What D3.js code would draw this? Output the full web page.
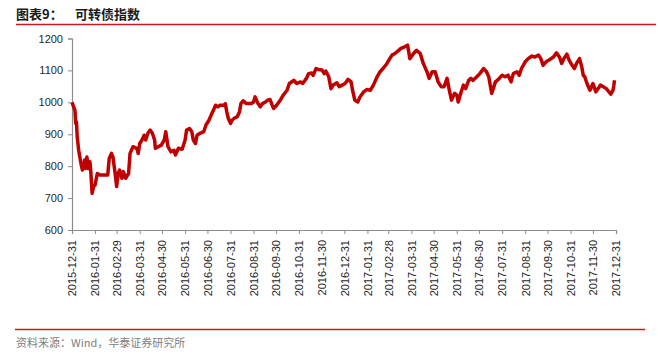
<!DOCTYPE html>
<html>
<head>
<meta charset="utf-8">
<script src="https://cdn.jsdelivr.net/npm/d3@7"></script>
<style>
  html, body { margin: 0; padding: 0; background: #fff; }
  svg { display: block; }
</style>
</head>
<body>
<svg id="chart" width="658" height="356"></svg>
<script>
// ---- data ----
const titleLabel = "图表9：";
const titleText = "可转债指数";
const sourceText = "资料来源：Wind，华泰证券研究所";

const tickDates = ["2015-12-31","2016-01-31","2016-02-29","2016-03-31","2016-04-30","2016-05-31",
  "2016-06-30","2016-07-31","2016-08-31","2016-09-30","2016-10-31","2016-11-30","2016-12-31",
  "2017-01-31","2017-02-28","2017-03-31","2017-04-30","2017-05-31","2017-06-30","2017-07-31",
  "2017-08-31","2017-09-30","2017-10-31","2017-11-30","2017-12-31"];
const yTicks = [600, 700, 800, 900, 1000, 1100, 1200];

const dates = [
 "2015-12-31","2016-01-04","2016-01-05","2016-01-06","2016-01-07","2016-01-09","2016-01-12","2016-01-14",
 "2016-01-17","2016-01-18","2016-01-20","2016-01-22","2016-01-24","2016-01-25","2016-01-27","2016-01-29",
 "2016-01-31","2016-02-03","2016-02-07","2016-02-13","2016-02-17","2016-02-19","2016-02-22","2016-02-24",
 "2016-02-27","2016-02-29","2016-03-02","2016-03-04","2016-03-07","2016-03-09","2016-03-12","2016-03-16",
 "2016-03-18","2016-03-22","2016-03-27","2016-03-29","2016-03-31","2016-04-03","2016-04-06","2016-04-08",
 "2016-04-11","2016-04-14","2016-04-17","2016-04-20","2016-04-21","2016-04-25","2016-04-29","2016-05-03",
 "2016-05-05","2016-05-08","2016-05-12","2016-05-16","2016-05-18","2016-05-22","2016-05-27","2016-05-31",
 "2016-06-02","2016-06-06","2016-06-09","2016-06-11","2016-06-14","2016-06-16","2016-06-20","2016-06-25",
 "2016-06-28","2016-07-02","2016-07-05","2016-07-08","2016-07-11","2016-07-14","2016-07-17","2016-07-22",
 "2016-07-24","2016-07-26","2016-07-28","2016-07-31","2016-08-02","2016-08-05","2016-08-09","2016-08-12",
 "2016-08-14","2016-08-17","2016-08-21","2016-08-24","2016-08-28","2016-08-31","2016-09-02","2016-09-06",
 "2016-09-09","2016-09-12","2016-09-16","2016-09-19","2016-09-22","2016-09-25","2016-09-27","2016-10-01",
 "2016-10-06","2016-10-10","2016-10-15","2016-10-18","2016-10-24","2016-10-28","2016-11-02","2016-11-05",
 "2016-11-10","2016-11-13","2016-11-17","2016-11-19","2016-11-23","2016-11-26","2016-12-01","2016-12-04",
 "2016-12-06","2016-12-10","2016-12-13","2016-12-16","2016-12-21","2016-12-24","2016-12-28","2017-01-01",
 "2017-01-05","2017-01-09","2017-01-11","2017-01-14","2017-01-18","2017-01-21","2017-01-26","2017-01-30",
 "2017-02-04","2017-02-08","2017-02-13","2017-02-17","2017-02-21","2017-02-26","2017-03-02","2017-03-05",
 "2017-03-09","2017-03-14","2017-03-17","2017-03-22","2017-03-26","2017-03-29","2017-04-03","2017-04-07",
 "2017-04-12","2017-04-16","2017-04-21","2017-04-24","2017-04-28","2017-05-02","2017-05-06","2017-05-10",
 "2017-05-14","2017-05-18","2017-05-21","2017-05-24","2017-05-28","2017-05-31","2017-06-02","2017-06-06",
 "2017-06-09","2017-06-12","2017-06-16","2017-06-19","2017-06-22","2017-06-27","2017-07-01","2017-07-06",
 "2017-07-10","2017-07-13","2017-07-17","2017-07-22","2017-07-26","2017-07-31","2017-08-04","2017-08-08",
 "2017-08-12","2017-08-15","2017-08-20","2017-08-23","2017-08-26","2017-08-31","2017-09-04","2017-09-09",
 "2017-09-13","2017-09-18","2017-09-21","2017-09-24","2017-09-28","2017-10-03","2017-10-08","2017-10-12",
 "2017-10-16","2017-10-19","2017-10-22","2017-10-26","2017-10-29","2017-11-02","2017-11-05","2017-11-08",
 "2017-11-12","2017-11-15","2017-11-17","2017-11-19","2017-11-22","2017-11-26","2017-11-30","2017-12-04",
 "2017-12-07","2017-12-10","2017-12-14","2017-12-18","2017-12-24","2017-12-27","2017-12-28","2017-12-29"
];
const values = [
 1000, 975, 934, 939, 892, 850, 809, 788,
 819, 793, 829, 793, 814, 793, 715, 736,
 741, 777, 772, 772, 772, 824, 840, 829,
 777, 736, 777, 788, 762, 783, 762, 777,
 840, 861, 856, 840, 871, 882, 897, 882,
 903, 913, 903, 882, 856, 861, 866, 882,
 908, 861, 845, 850, 835, 856, 853, 882,
 913, 918, 908, 882, 871, 897, 903, 908,
 929, 944, 960, 975, 991, 986, 991, 991,
 996, 970, 950, 934, 944, 950, 955, 970,
 996, 1005, 996, 996, 996, 1001, 1017, 996,
 986, 996, 1001, 1007, 1009, 991, 981, 991,
 1007, 1023, 1038, 1059, 1069, 1059, 1064, 1059,
 1075, 1090, 1092, 1085, 1106, 1103, 1101, 1090,
 1098, 1080, 1043, 1054, 1061, 1049, 1054, 1059,
 1072, 1064, 1038, 1007, 1001, 1017, 1033, 1040,
 1038, 1054, 1080, 1096, 1106, 1121, 1137, 1148,
 1153, 1163, 1169, 1174, 1179, 1137, 1153, 1163,
 1153, 1122, 1096, 1075, 1096, 1096, 1064, 1049,
 1049, 1075, 1038, 1007, 1028, 1023, 1001, 1033,
 1054, 1043, 1069, 1075, 1069, 1080, 1090, 1106,
 1096, 1080, 1028, 1064, 1072, 1085, 1080, 1085,
 1064, 1090, 1096, 1085, 1106, 1127, 1137, 1145,
 1142, 1148, 1137, 1116, 1127, 1134, 1142, 1155,
 1142, 1122, 1137, 1151, 1132, 1116, 1106, 1122,
 1137, 1111, 1085, 1080, 1059, 1038, 1059, 1033,
 1043, 1054, 1049, 1043, 1026, 1038, 1052, 1069
];

// ---- drawing ----
const parse = d3.timeParse("%Y-%m-%d");
const fmt = d3.timeFormat("%Y-%m-%d");
const svg = d3.select("#chart");

const x = d3.scaleTime()
  .domain([parse(tickDates[0]), parse(tickDates[tickDates.length - 1])])
  .range([72, 616]);
const y = d3.scaleLinear().domain([600, 1200]).range([230, 38.5]);

const cjk = "'Noto Sans CJK SC', 'Noto Sans', sans-serif";
const latin = "Arial, 'Liberation Sans', sans-serif";

// header
svg.append("text")
  .attr("x", 16).attr("y", 19)
  .attr("font-family", cjk).attr("font-size", 13).attr("font-weight", "bold")
  .attr("fill", "#1a1a1a")
  .text(titleLabel);
svg.append("text")
  .attr("x", 75).attr("y", 19)
  .attr("font-family", cjk).attr("font-size", 13).attr("font-weight", "bold")
  .attr("fill", "#1a1a1a")
  .text(titleText);
svg.append("line")
  .attr("x1", 16).attr("x2", 656).attr("y1", 24.5).attr("y2", 24.5)
  .attr("stroke", "#d0181e").attr("stroke-width", 1.5);

// footer
svg.append("line")
  .attr("x1", 15).attr("x2", 645).attr("y1", 329.5).attr("y2", 329.5)
  .attr("stroke", "#d0181e").attr("stroke-width", 1.5);
svg.append("text")
  .attr("x", 16).attr("y", 347)
  .attr("font-family", cjk).attr("font-size", 11)
  .attr("fill", "#808080")
  .text(sourceText);

// axes
const axisColor = "#8c8c8c";
const yAxis = d3.axisLeft(y).tickValues(yTicks).tickSize(4).tickPadding(5).tickFormat(d3.format("d"));
const gy = svg.append("g").attr("transform", "translate(72,0)").call(yAxis);
gy.select(".domain").attr("stroke", axisColor).attr("stroke-width", 1.2);
gy.selectAll(".tick line").attr("stroke", axisColor);
gy.selectAll(".tick text").attr("font-family", latin).attr("font-size", 11).attr("fill", "#262626");

const xAxis = d3.axisBottom(x).tickValues(tickDates.map(parse)).tickSize(4).tickFormat(fmt);
const gx = svg.append("g").attr("transform", "translate(0,230)").call(xAxis);
gx.select(".domain").attr("stroke", axisColor).attr("stroke-width", 1.2);
gx.selectAll(".tick line").attr("stroke", axisColor);
gx.selectAll(".tick text")
  .attr("font-family", latin).attr("font-size", 11).attr("fill", "#262626")
  .attr("text-anchor", "end")
  .attr("transform", "rotate(-90)")
  .attr("x", -10).attr("y", 0).attr("dy", "0.35em");

// series line
const data = dates.map((d, i) => ({ date: parse(d), value: values[i] }));
const line = d3.line().x(d => x(d.date)).y(d => y(d.value));
svg.append("path")
  .datum(data)
  .attr("fill", "none")
  .attr("stroke", "#c00000")
  .attr("stroke-width", 3.5)
  .attr("stroke-linejoin", "round")
  .attr("d", line);
</script>
</body>
</html>
